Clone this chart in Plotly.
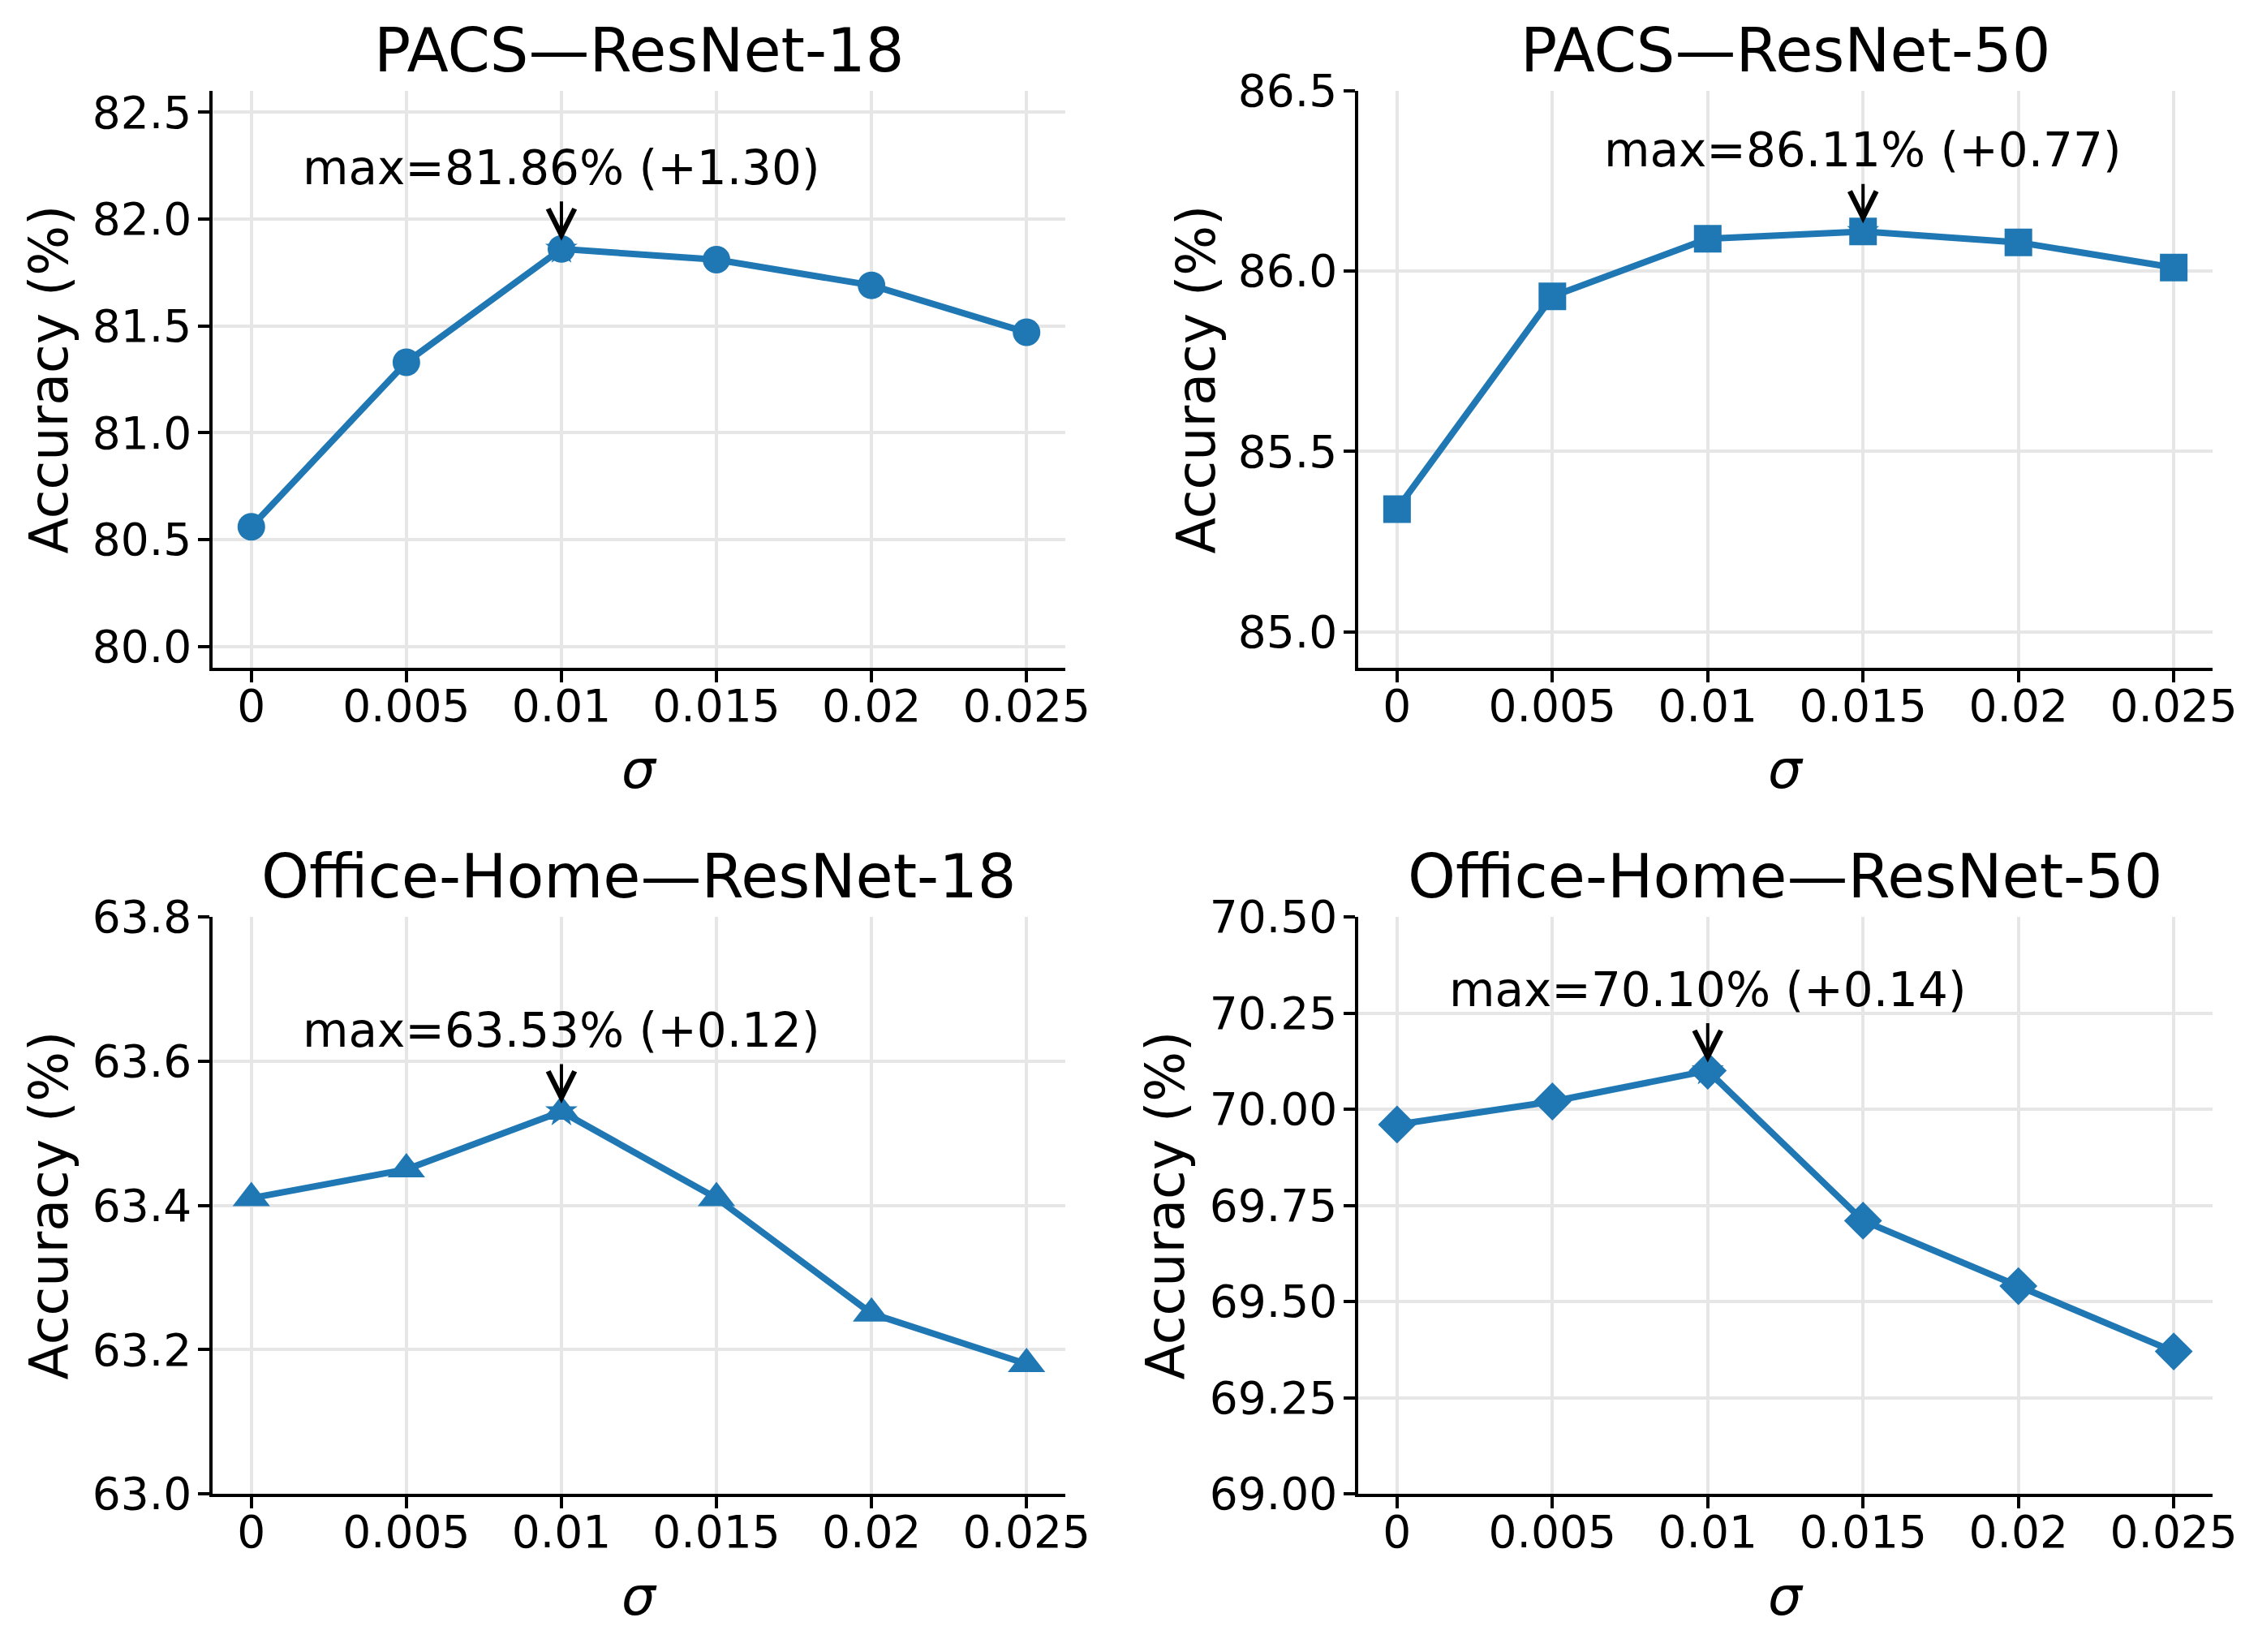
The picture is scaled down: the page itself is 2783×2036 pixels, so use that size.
import plotly.graph_objects as go

# ---------------- data ----------------
sigma = [0, 0.005, 0.01, 0.015, 0.02, 0.025]
sigma_labels = ["0", "0.005", "0.01", "0.015", "0.02", "0.025"]

pacs_r18 = [80.56, 81.33, 81.86, 81.81, 81.69, 81.47]
pacs_r50 = [85.34, 85.93, 86.09, 86.11, 86.08, 86.01]
oh_r18 = [63.41, 63.45, 63.53, 63.41, 63.25, 63.18]
oh_r50 = [69.96, 70.02, 70.10, 69.71, 69.54, 69.37]

titles = ["PACS—ResNet-18", "PACS—ResNet-50",
          "Office-Home—ResNet-18", "Office-Home—ResNet-50"]

yticks_pacs_r18 = [80.0, 80.5, 81.0, 81.5, 82.0, 82.5]
yticks_pacs_r50 = [85.0, 85.5, 86.0, 86.5]
yticks_oh_r18 = [63.0, 63.2, 63.4, 63.6, 63.8]
yticks_oh_r50 = [69.0, 69.25, 69.5, 69.75, 70.0, 70.25, 70.5]

yrange_pacs_r18 = [79.9, 82.6]
yrange_pacs_r50 = [84.9, 86.5]
yrange_oh_r18 = [63.0, 63.8]
yrange_oh_r50 = [69.0, 70.5]

# ---------------- style / layout ----------------
# page body has an 8px margin, so the figure is drawn 16px smaller
W, H = 2767, 2020
BLUE = "#1f77b4"
FONT = "DejaVu Sans"
GRID = "#e6e6e6"

panels = [
    dict(y=pacs_r18, title=titles[0], marker="circle", msize=34,
         ticks=yticks_pacs_r18, rng=yrange_pacs_r18, fmt="{:.1f}",
         xpx=(254, 1305), ypx=(104, 815), ylab_x=52),
    dict(y=pacs_r50, title=titles[1], marker="square", msize=34,
         ticks=yticks_pacs_r50, rng=yrange_pacs_r50, fmt="{:.1f}",
         xpx=(1666, 2719), ypx=(104, 815), ylab_x=1466),
    dict(y=oh_r18, title=titles[2], marker="triangle-up", msize=40,
         ticks=yticks_oh_r18, rng=yrange_oh_r18, fmt="{:.1f}",
         xpx=(254, 1305), ypx=(1122, 1833), ylab_x=52),
    dict(y=oh_r50, title=titles[3], marker="diamond", msize=36,
         ticks=yticks_oh_r50, rng=yrange_oh_r50, fmt="{:.2f}",
         xpx=(1666, 2719), ypx=(1122, 1833), ylab_x=1428),
]

fig = go.Figure()
annotations = []

for i, p in enumerate(panels, start=1):
    xa = "x" if i == 1 else f"x{i}"
    ya = "y" if i == 1 else f"y{i}"
    xdom = [p["xpx"][0] / W, p["xpx"][1] / W]
    ydom = [1 - p["ypx"][1] / H, 1 - p["ypx"][0] / H]

    # main line with markers
    fig.add_trace(go.Scatter(
        x=sigma, y=p["y"], mode="lines+markers", xaxis=xa, yaxis=ya,
        line=dict(color=BLUE, width=8),
        marker=dict(symbol=p["marker"], size=p["msize"], color=BLUE,
                    line=dict(width=0)),
        showlegend=False, hoverinfo="x+y"))

    # max point star
    ymax = max(p["y"])
    imax = p["y"].index(ymax)
    fig.add_trace(go.Scatter(
        x=[sigma[imax]], y=[ymax], mode="markers", xaxis=xa, yaxis=ya,
        marker=dict(symbol="star", size=30, color=BLUE, line=dict(width=0)),
        showlegend=False, hoverinfo="x+y"))

    gain = ymax - p["y"][0]
    annotations.append(dict(
        x=sigma[imax], y=ymax, xref=xa, yref=ya,
        text=f"max={ymax:.2f}% (+{gain:.2f})",
        showarrow=True, ax=0, ay=-100, axref="pixel", ayref="pixel",
        arrowhead=5, arrowsize=1.6, arrowwidth=4, arrowcolor="black",
        standoff=10, startstandoff=6,
        font=dict(family=FONT, size=58, color="black")))

    # subplot title
    annotations.append(dict(
        x=(xdom[0] + xdom[1]) / 2, y=ydom[1], xref="paper", yref="paper",
        text=p["title"], showarrow=False, xanchor="center", yanchor="bottom",
        yshift=4, font=dict(family=FONT, size=75, color="black")))

    # y-axis title
    annotations.append(dict(
        x=p["ylab_x"] / W, y=(ydom[0] + ydom[1]) / 2, xref="paper",
        yref="paper", text="Accuracy (%)", textangle=-90, showarrow=False,
        xanchor="center", yanchor="middle",
        font=dict(family=FONT, size=65, color="black")))

    # x-axis title
    annotations.append(dict(
        x=(xdom[0] + xdom[1]) / 2, y=1 - (p["ypx"][1] + 126) / H,
        xref="paper", yref="paper", text="<i>σ</i>", showarrow=False,
        xanchor="center", yanchor="middle",
        font=dict(family=FONT, size=66, color="black")))

    axis_common = dict(
        showline=True, linecolor="black", linewidth=3.5, mirror=False,
        ticks="outside", ticklen=14, tickwidth=3.5, tickcolor="black",
        showgrid=True, gridcolor=GRID, gridwidth=3.5, zeroline=False,
        automargin=False,
        tickfont=dict(family=FONT, size=55, color="black"))

    fig.layout[("xaxis" if i == 1 else f"xaxis{i}")] = dict(
        domain=xdom, anchor=ya, range=[-0.00125, 0.02625],
        tickmode="array", tickvals=sigma, ticktext=sigma_labels,
        ticklabelstandoff=-18, **axis_common)
    fig.layout[("yaxis" if i == 1 else f"yaxis{i}")] = dict(
        domain=ydom, anchor=xa, range=p["rng"],
        tickmode="array", tickvals=p["ticks"],
        ticktext=[p["fmt"].format(v) for v in p["ticks"]],
        ticklabelstandoff=-3, **axis_common)

fig.update_layout(
    template="none",
    width=W, height=H, margin=dict(l=0, r=0, t=0, b=0, autoexpand=False),
    paper_bgcolor="white", plot_bgcolor="white",
    font=dict(family=FONT, color="black"),
    annotations=annotations, showlegend=False)

fig.write_html("out.html")
